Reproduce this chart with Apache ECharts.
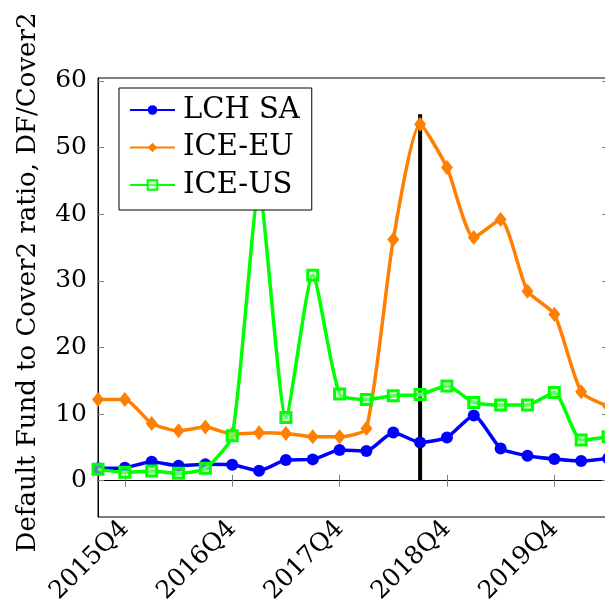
<!DOCTYPE html>
<html lang="en">
<head>
    <meta charset="UTF-8">
    <script src="https://cdn.jsdelivr.net/npm/echarts@6/dist/echarts.min.js"></script>
    <title>DF/Cover2</title>
</head>
<style>
    body{
        margin: 0;
        padding: 0;
        background: #fff;
    }
</style>
<body>
<div id="chart" style="width: 605px;height:599px;"></div>
</body>
<script>
    // quarters on the x axis, only Q4 gets a label
    var quarters = ['2015Q3', '2015Q4', '2016Q1', '2016Q2', '2016Q3', '2016Q4', '2017Q1', '2017Q2', '2017Q3', '2017Q4',
        '2018Q1', '2018Q2', '2018Q3', '2018Q4', '2019Q1', '2019Q2', '2019Q3', '2019Q4', '2020Q1', '2020Q2'];
    var labelQuarters = ['2015Q4', '2016Q4', '2017Q4', '2018Q4', '2019Q4'];

    var lchSa = [1.85, 1.95, 2.85, 2.25, 2.45, 2.4, 1.5, 3.1, 3.2, 4.6, 4.45, 7.25, 5.75, 6.5, 9.8, 4.85, 3.75, 3.25, 2.95, 3.35];
    var iceEu = [12.2, 12.2, 8.6, 7.5, 8.05, 7.0, 7.2, 7.1, 6.6, 6.6, 7.85, 36.2, 53.5, 47.0, 36.5, 39.2, 28.45, 25.0, 13.35, 11.2];
    var iceUs = [1.7, 1.25, 1.45, 1.1, 1.85, 6.75, 43.5, 9.5, 30.85, 13.0, 12.2, 12.75, 12.95, 14.2, 11.75, 11.35, 11.35, 13.25, 6.1, 6.6];

    // vertical marker line
    var markQuarter = '2018Q3';
    var markBottom = 0;
    var markTop = 55;

    var yMin = -5.45, yMax = 60.45;

    var serif = "'DejaVu Serif', serif";
    var chart = echarts.init(document.getElementById('chart'));

    var tickStyle = {show: true, inside: true, length: 6, lineStyle: {color: '#808080', width: 1}};
    var isQ4 = function (idx, val) {
        return labelQuarters.indexOf(val) >= 0;
    };

    var option = {
        animation: false,
        grid: {
            left: 98, top: 78, width: 510, height: 439,
            outerBoundsMode: 'none',
            containLabel: false,
            show: true, borderColor: '#000', borderWidth: 1, backgroundColor: 'transparent'
        },
        legend: {
            data: ['LCH SA', 'ICE-EU', 'ICE-US'],
            orient: 'vertical',
            left: 119, top: 88,
            padding: [5, 12, 8, 10],
            itemGap: 3.5,
            itemWidth: 45,
            itemHeight: 12,
            z: 10,
            backgroundColor: '#fff',
            borderColor: '#000',
            borderWidth: 1,
            textStyle: {fontFamily: serif, fontSize: 29, color: '#000', lineHeight: 34, padding: [0, 0, 0, 3]}
        },
        xAxis: [{
            type: 'category',
            data: quarters,
            boundaryGap: false,
            axisLine: {show: true, lineStyle: {color: '#000', width: 1}},
            axisTick: Object.assign({interval: isQ4}, tickStyle),
            axisLabel: {
                interval: isQ4, rotate: 45, margin: 8,
                fontFamily: serif, fontSize: 25, color: '#000'
            },
            splitLine: {show: false}
        }, {
            type: 'category',
            data: quarters,
            position: 'top',
            boundaryGap: false,
            axisLine: {show: false},
            axisTick: Object.assign({interval: isQ4}, tickStyle),
            axisLabel: {show: false},
            splitLine: {show: false}
        }],
        yAxis: [{
            type: 'value',
            min: yMin, max: yMax,
            name: 'Default Fund to Cover2 ratio, DF/Cover2',
            nameLocation: 'middle',
            nameRotate: 90,
            nameGap: 57,
            nameTextStyle: {fontFamily: serif, fontSize: 26, color: '#000', padding: [0, 0, 0, 30]},
            axisLine: {show: true, lineStyle: {color: '#000', width: 1}},
            axisTick: tickStyle,
            axisLabel: {
                margin: 11, fontFamily: serif, fontSize: 25, color: '#000',
                showMinLabel: false, showMaxLabel: false,
                formatter: function (v) {
                    return Math.abs(v % 10) < 1e-6 ? String(v) : '';
                }
            },
            splitLine: {show: false}
        }, {
            type: 'value',
            min: yMin, max: yMax,
            position: 'right',
            axisLine: {show: false},
            axisTick: tickStyle,
            axisLabel: {show: false},
            splitLine: {show: false}
        }],
        series: [{
            name: 'marker',
            type: 'line',
            data: [[markQuarter, markBottom], [markQuarter, markTop]],
            symbol: 'none',
            lineStyle: {color: '#000', width: 4},
            z: 1
        }, {
            name: 'LCH SA',
            type: 'line',
            data: lchSa,
            smooth: 0.2,
            symbol: 'circle',
            symbolSize: 12,
            itemStyle: {color: '#0000ff'},
            lineStyle: {color: '#0000ff', width: 3.5},
            z: 2
        }, {
            name: 'ICE-EU',
            type: 'line',
            data: iceEu,
            smooth: 0.2,
            symbol: 'diamond',
            symbolSize: [12, 15],
            itemStyle: {color: '#ff8000'},
            lineStyle: {color: '#ff8000', width: 3.5},
            z: 2
        }, {
            name: 'ICE-US',
            type: 'line',
            data: iceUs,
            smooth: 0.2,
            symbol: 'rect',
            symbolSize: 10,
            itemStyle: {color: 'rgba(180,255,180,0.5)', borderColor: '#00ff00', borderWidth: 3},
            lineStyle: {color: '#00ff00', width: 3.5},
            z: 3
        }]
    };
    chart.setOption(option);
</script>
</html>
